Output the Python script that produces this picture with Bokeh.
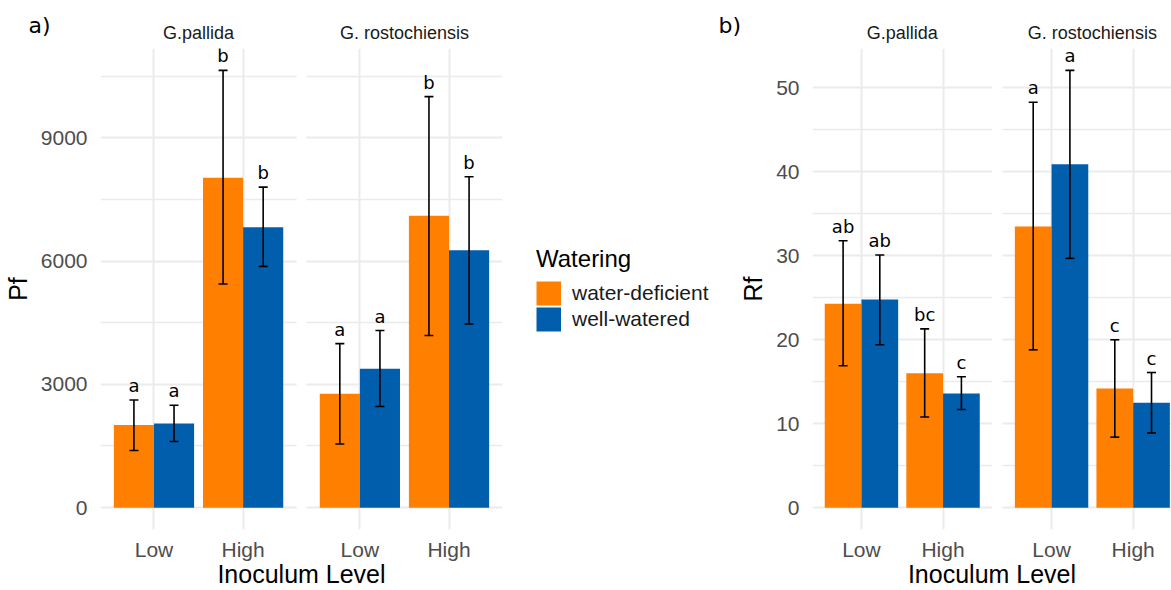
from bokeh.plotting import figure
from bokeh.models import (ColumnDataSource, FixedTicker, LinearAxis, Whisker, TeeHead,
                          Legend, LegendItem, BoxAnnotation, LabelSet, Range1d)
from bokeh.layouts import row
from bokeh.embed import file_html
from bokeh.resources import INLINE
from bokeh.core.properties import value

# ---------------- data ----------------
species = ["G.pallida", "G. rostochiensis"]
levels = ["Low", "High"]
watering = ["water-deficient", "well-watered"]
colors = ["#FF7F00", "#005EAD"]

# order: species -> level -> watering
pf_mean = [2010, 2050, 8030, 6820, 2770, 3380, 7100, 6260]
pf_upper = [2620, 2490, 10640, 7800, 3990, 4310, 10000, 8050]
pf_lower = [1390, 1610, 5440, 5870, 1550, 2460, 4190, 4470]
pf_letters = ["a", "a", "b", "b", "a", "a", "b", "b"]

rf_mean = [24.3, 24.8, 16.0, 13.6, 33.5, 40.9, 14.2, 12.5]
rf_upper = [31.8, 30.1, 21.3, 15.6, 48.3, 52.1, 20.0, 16.1]
rf_lower = [16.9, 19.4, 10.8, 11.7, 18.8, 29.7, 8.4, 8.9]
rf_letters = ["ab", "ab", "bc", "c", "a", "a", "c", "c"]

pf_major = [0, 3000, 6000, 9000]
pf_minor = [1500, 4500, 7500, 10500]
rf_major = [0, 10, 20, 30, 40, 50]
rf_minor = [5, 15, 25, 35, 45]

# ---------------- style ----------------
AXIS_FONT = "Liberation Sans"
LETTER_FONT = "DejaVu Sans"
DODGE = 0.45
FACET_W = 2.2          # discrete scale 0.4 .. 2.6
GRID = "#EBEBEB"
H = 590


def positions(gap):
    xs, ws = [], []
    for s in range(len(species)):
        for l in range(len(levels)):
            for w in range(len(watering)):
                xs.append(1 + l + s * (FACET_W + gap) + (w - 0.5) * DODGE)
                ws.append(w)
    return xs, ws


def make_panel(mean, upper, lower, letters, majors, minors, ylabel, tag, gap,
               width, border_left, border_right, tag_x, x_end=None):
    xs, ws = positions(gap)
    top = max(upper)
    y0, y1 = -0.05 * top, 1.05 * top
    x0 = 0.4
    x1 = x_end if x_end is not None else 0.4 + 2 * FACET_W + gap

    p = figure(width=width, height=H, x_range=Range1d(x0, x1), y_range=Range1d(y0, y1),
               output_backend="svg", toolbar_location=None,
               min_border_left=border_left, min_border_right=border_right,
               min_border_top=48, min_border_bottom=57)
    p.outline_line_color = None
    p.background_fill_color = "white"

    # panel tag as title, pulled down next to the strip labels
    p.title.text = tag
    p.title.align = "left"
    p.title.offset = tag_x
    p.title.standoff = -37
    p.title.text_font = LETTER_FONT
    p.title.text_font_size = "22px"
    p.title.text_font_style = "normal"
    p.title.text_color = "black"

    # facet separation band
    p.add_layout(BoxAnnotation(left=0.4 + FACET_W, right=0.4 + FACET_W + gap,
                               fill_color="white", fill_alpha=1.0, line_alpha=0))

    # bars
    for w in range(len(watering)):
        idx = [i for i in range(len(xs)) if ws[i] == w]
        src = ColumnDataSource(dict(x=[xs[i] for i in idx], top=[mean[i] for i in idx]))
        p.vbar(x="x", top="top", bottom=0, width=DODGE, source=src,
               fill_color=colors[w], line_color=None)

    err = ColumnDataSource(dict(x=xs, upper=upper, lower=lower, letter=letters))
    p.add_layout(Whisker(source=err, base="x", upper="upper", lower="lower",
                         line_color="black", line_width=1.6, level="overlay",
                         upper_head=TeeHead(size=9, line_color="black", line_width=1.6),
                         lower_head=TeeHead(size=9, line_color="black", line_width=1.6)))
    p.add_layout(LabelSet(source=err, x="x", y="upper", text="letter", y_offset=8,
                          text_align="center", text_baseline="alphabetic",
                          text_font=value(LETTER_FONT), text_font_size="18px",
                          text_color="black"))

    # x axis (bottom)
    xt = [1 + l + s * (FACET_W + gap) for s in range(len(species)) for l in range(len(levels))]
    xl = [levels[l] for s in range(len(species)) for l in range(len(levels))]
    tk = FixedTicker(ticks=xt)
    p.xaxis.ticker = tk
    p.xgrid.ticker = tk
    p.xaxis.major_label_overrides = {t: lab for t, lab in zip(xt, xl)}
    p.xaxis.axis_label = "Inoculum Level"

    # y axis
    yt = FixedTicker(ticks=majors, minor_ticks=minors)
    p.yaxis.ticker = yt
    p.ygrid.ticker = yt
    p.yaxis.axis_label = ylabel

    for ax in (p.xaxis[0], p.yaxis[0]):
        ax.axis_line_color = None
        ax.major_tick_line_color = None
        ax.minor_tick_line_color = None
        ax.major_tick_out = 0
        ax.major_tick_in = 0
        ax.major_label_text_font = AXIS_FONT
        ax.major_label_text_font_size = "21px"
        ax.major_label_text_color = "#4D4D4D"
        ax.axis_label_text_font = AXIS_FONT
        ax.axis_label_text_font_size = "25px"
        ax.axis_label_text_font_style = "normal"
        ax.axis_label_text_color = "black"
    p.xaxis.major_label_standoff = 8
    p.xaxis.axis_label_standoff = -4
    p.yaxis.major_label_standoff = 9
    p.yaxis.axis_label_standoff = 6

    p.xgrid.grid_line_color = GRID
    p.xgrid.grid_line_width = 2
    p.ygrid.grid_line_color = GRID
    p.ygrid.grid_line_width = 2
    p.ygrid.minor_grid_line_color = GRID
    p.ygrid.minor_grid_line_width = 1.3

    # facet strip labels
    st = [1.5 + s * (FACET_W + gap) for s in range(len(species))]
    strip = LinearAxis(ticker=FixedTicker(ticks=st),
                       major_label_overrides={t: sp for t, sp in zip(st, species)})
    strip.axis_line_color = None
    strip.major_tick_line_color = None
    strip.minor_tick_line_color = None
    strip.major_tick_out = 0
    strip.major_tick_in = 0
    strip.major_label_standoff = 6
    strip.major_label_text_font = AXIS_FONT
    strip.major_label_text_font_size = "18px"
    strip.major_label_text_color = "#1A1A1A"
    p.add_layout(strip, "above")
    return p


def make_legend(width, mean, gap):
    xs, ws = positions(gap)
    p = figure(width=width, height=H, x_range=Range1d(0, 1), y_range=Range1d(0, 1),
               output_backend="svg", toolbar_location=None,
               x_axis_location=None, y_axis_location=None,
               min_border_left=0, min_border_right=0, min_border_top=0, min_border_bottom=0)
    p.outline_line_color = None
    p.xgrid.visible = False
    p.ygrid.visible = False
    rs = []
    for w in range(len(watering)):
        idx = [i for i in range(len(xs)) if ws[i] == w]
        src = ColumnDataSource(dict(x=[xs[i] for i in idx], y=[mean[i] for i in idx]))
        # key swatch: a thick line gives a full-size square key
        rs.append(p.line(x="x", y="y", source=src, line_color=colors[w],
                         line_width=24, line_cap="butt", visible=False))
    leg = Legend(items=[LegendItem(label=watering[w], renderers=[rs[w]]) for w in range(len(watering))],
                 title="Watering", location=(16, 197), margin=0, padding=0, spacing=0,
                 glyph_width=25, glyph_height=26, label_height=26,
                 label_standoff=11, title_standoff=7, border_line_color=None,
                 background_fill_alpha=0, inactive_fill_alpha=0,
                 title_text_font=AXIS_FONT, title_text_font_size="24px",
                 title_text_color="black", title_text_font_style="normal",
                 label_text_font=AXIS_FONT, label_text_font_size="21px",
                 label_text_color="#1A1A1A")
    p.add_layout(leg)
    return p


pa = make_panel(pf_mean, pf_upper, pf_lower, pf_letters, pf_major, pf_minor, "Pf", "a)",
                gap=0.11, width=520, border_left=100, border_right=18, tag_x=-72)
pl = make_legend(195, pf_mean, 0.11)
pb = make_panel(rf_mean, rf_upper, rf_lower, rf_letters, rf_major, rf_minor, "Rf", "b)",
                gap=0.13, width=456, border_left=97, border_right=0, tag_x=-94, x_end=4.80)

layout = row(pa, pl, pb)
open("out.html", "w").write(file_html(layout, INLINE))
